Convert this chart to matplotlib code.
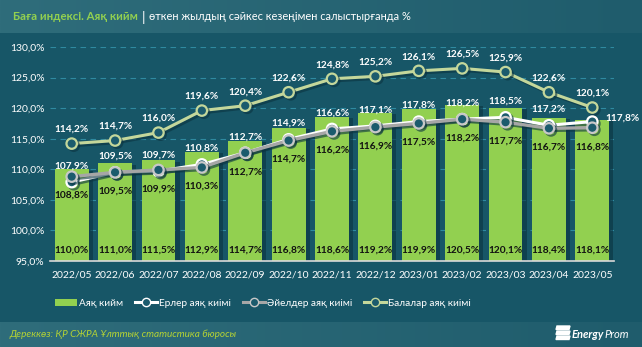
import numpy as np
import matplotlib
matplotlib.use("Agg")
import matplotlib.pyplot as plt
import matplotlib.patheffects as pe
from matplotlib.lines import Line2D
from matplotlib.patches import Patch
from matplotlib.colors import LinearSegmentedColormap

plt.rcParams['font.family'] = ['Lato', 'DejaVu Sans']

categories = ["2022/05", "2022/06", "2022/07", "2022/08", "2022/09", "2022/10", "2022/11",
              "2022/12", "2023/01", "2023/02", "2023/03", "2023/04", "2023/05"]
footwear = [110.0, 111.0, 111.5, 112.9, 114.7, 116.8, 118.6, 119.2, 119.9, 120.5, 120.1, 118.4, 118.1]
men = [107.9, 109.5, 109.7, 110.8, 112.7, 114.9, 116.6, 117.1, 117.8, 118.2, 118.5, 117.2, 117.8]
women = [108.8, 109.5, 109.9, 110.3, 112.7, 114.7, 116.2, 116.9, 117.5, 118.2, 117.7, 116.7, 116.8]
children = [114.2, 114.7, 116.0, 119.6, 120.4, 122.6, 124.8, 125.2, 126.1, 126.5, 125.9, 122.6, 120.1]
yticks = [95, 100, 105, 110, 115, 120, 125, 130]

BG = '#175667'
GREEN = '#92d050'
OLIVE = '#c4d79b'
GRAY = '#a6a6a6'

def fmt(v):
    return f"{v:.1f}%".replace('.', ',')

fig = plt.figure(figsize=(6.42, 3.47), dpi=100)
fig.patch.set_facecolor(BG)

# background bands
bgax = fig.add_axes([0, 0, 1, 1], zorder=-10)
grad = np.linspace(0, 1, 256).reshape(1, -1)
cm = LinearSegmentedColormap.from_list('band', ['#2f6d7b', '#1f5c6c'])
bgax.imshow(grad, extent=[0, 642, 33, 0], aspect='auto', cmap=cm)
bgax.imshow(grad, extent=[0, 642, 347, 322], aspect='auto', cmap=cm)
bgax.add_patch(plt.Rectangle((0, 33), 642, 289, color=BG, zorder=-1))
bgax.set_xlim(0, 642); bgax.set_ylim(347, 0)
bgax.axis('off')

ax = fig.add_axes([50/642, 1 - 261/347, 564/642, 214/347])
ax.set_facecolor('none')
x = np.arange(len(categories))

ax.bar(x, footwear, width=0.78, color=GREEN, zorder=2,
       path_effects=[pe.SimplePatchShadow(offset=(3, -1), shadow_rgbFace='#0b3340', alpha=0.6), pe.Normal()])

shadow = [pe.SimpleLineShadow(offset=(1.5, -1.5), shadow_color='#0b3340', alpha=0.6), pe.Normal()]
mk = dict(marker='o', markersize=7.5, markerfacecolor='#1b5b6d', markeredgewidth=1.6)
ax.plot(x, children, color=OLIVE, lw=2.2, markeredgecolor=OLIVE, zorder=4, path_effects=shadow, **mk)
ax.plot(x, women, color=GRAY, lw=2.4, markeredgecolor='#c8c8c8', zorder=5, path_effects=shadow, **mk)
ax.plot(x, men, color='white', lw=2.2, markeredgecolor='white', zorder=4.5, path_effects=shadow, **mk)

ax.set_ylim(95, 130)
ax.set_xlim(-0.5, len(categories) - 0.5)
ax.set_yticks(yticks)
ax.set_yticklabels([fmt(v) for v in yticks])
ax.set_xticks(x)
ax.set_xticklabels(categories)
ax.tick_params(colors='white', labelsize=7.5, length=0, pad=4)
ax.tick_params(axis='x', pad=7)
for s in ['top', 'right', 'left']:
    ax.spines[s].set_visible(False)
ax.spines['bottom'].set_color('#d9d9d9')
ax.spines['bottom'].set_linewidth(1.2)
ax.spines['bottom'].set_zorder(6)
for yv in yticks[1:]:
    ax.axhline(yv, color='#2f8aa0', lw=0.8, ls=(0, (5, 4)), zorder=1)

lab = dict(fontsize=7.3, fontweight='bold', ha='center', va='center', zorder=7)
for i in range(len(categories)):
    ax.annotate(fmt(children[i]), (x[i], children[i]), xytext=(0, 14), textcoords='offset pixels', color='white', **lab)
    if i == len(categories) - 1:
        ax.annotate(fmt(men[i]), (x[i], men[i]), xytext=(30, 3), textcoords='offset pixels', color='white', **lab)
    else:
        ax.annotate(fmt(men[i]), (x[i], men[i]), xytext=(0, 16), textcoords='offset pixels', color='white', **lab)
    ax.annotate(fmt(women[i]), (x[i], women[i]), xytext=(0, -19), textcoords='offset pixels', color='#111111', **lab)
    ax.annotate(fmt(footwear[i]), (x[i], 95), xytext=(0, 11), textcoords='offset pixels', color='#111111', **lab)

# title
fig.text(13/642, 1 - 17/347, "Баға индексі. Аяқ кийм", color=GREEN, fontsize=8.2, fontweight='bold', va='center')
fig.text(142/642, 1 - 17/347, "|", color='white', fontsize=10, va='center')
fig.text(149/642, 1 - 17/347, "өткен жылдың сәйкес кезеңімен салыстырғанда %", color='white', fontsize=7.9,
         va='center')

# legend
handles = [Patch(facecolor=GREEN, edgecolor='none'),
           Line2D([], [], color='white', lw=2.2, marker='o', markersize=6, markerfacecolor='#1b5b6d', markeredgecolor='white'),
           Line2D([], [], color=GRAY, lw=2.2, marker='o', markersize=6, markerfacecolor='#1b5b6d', markeredgecolor='#c8c8c8'),
           Line2D([], [], color=OLIVE, lw=2.2, marker='o', markersize=6, markerfacecolor='#1b5b6d', markeredgecolor=OLIVE)]
labels = ["Аяқ кийм", "Ерлер аяқ киімі", "Әйелдер аяқ киімі", "Балалар аяқ киімі"]
leg = fig.legend(handles, labels, loc='center', bbox_to_anchor=(263/642, 1 - 303/347), ncol=4,
                 frameon=False, labelcolor='white', handlelength=2.2, handletextpad=0.2,
                 columnspacing=1.2, handleheight=0.7, prop={'size': 7.2})

# footer
fig.text(9/642, 1 - 334/347, "Дереккөз: ҚР СЖРА Ұлттық статистика бюросы", color='#b5d334', fontsize=7.2,
         style='italic', va='center')
t1 = fig.text(572/642, 1 - 334/347, "Energy", color='white', fontsize=8, fontweight='bold', style='italic',
              va='center', ha='left')
fig.canvas.draw()
bb = t1.get_window_extent()
fig.text((bb.x1 + 0.5) / 642, 1 - 334/347, "Prom", color='white', fontsize=8, style='italic', va='center', ha='left')
for k in range(3):
    yb = 326 + k * 5
    bgax.add_patch(plt.Polygon([[557, yb], [570, yb], [569, yb + 3.5], [556, yb + 3.5]],
                               closed=True, color='white', zorder=5))

fig.savefig("out.png", dpi=100, facecolor=fig.get_facecolor())
